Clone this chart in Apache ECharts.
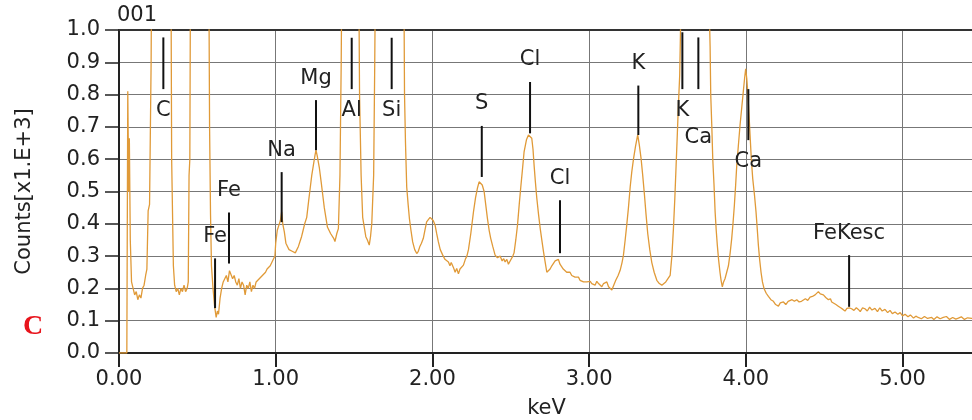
<!DOCTYPE html>
<html>
<head>
<meta charset="utf-8">
<script src="https://cdn.jsdelivr.net/npm/echarts@6/dist/echarts.min.js"></script>
<style>
  html, body { margin: 0; padding: 0; background: #fff; }
  #main { width: 972px; height: 420px; }
</style>
</head>
<body>
<div id="main"></div>
<script>
// EDS spectrum, [keV, counts x1000] (peaks above 1.0 run off the top)
const spectrum = [
  [0.00, 0.0], [0.03, 0.0], [0.05, 0.0], [0.056, 0.81], [0.062, 0.5], [0.066, 0.665], [0.072, 0.35], [0.08, 0.22],
  [0.09, 0.20], [0.10, 0.18], [0.11, 0.19], [0.12, 0.165], [0.13, 0.18], [0.14, 0.17], [0.15, 0.2], [0.16, 0.21],
  [0.17, 0.24], [0.178, 0.26], [0.186, 0.44], [0.195, 0.46], [0.205, 0.9], [0.21, 1.4], [0.27, 5.0], [0.33, 1.4],
  [0.336, 0.6], [0.347, 0.27], [0.355, 0.21], [0.365, 0.19], [0.375, 0.2], [0.385, 0.18], [0.395, 0.2], [0.405, 0.19],
  [0.415, 0.21], [0.425, 0.19], [0.435, 0.2], [0.442, 0.22], [0.447, 0.55], [0.452, 0.6], [0.457, 1.3], [0.52, 5.0],
  [0.572, 1.3], [0.578, 0.7], [0.584, 0.43], [0.59, 0.27], [0.60, 0.2], [0.61, 0.145], [0.62, 0.11], [0.628, 0.13],
  [0.635, 0.12], [0.645, 0.17], [0.655, 0.2], [0.665, 0.22], [0.675, 0.23], [0.685, 0.24], [0.695, 0.22], [0.705, 0.255],
  [0.715, 0.25], [0.725, 0.23], [0.735, 0.24], [0.745, 0.22], [0.755, 0.21], [0.765, 0.23], [0.775, 0.2], [0.785, 0.22],
  [0.795, 0.21], [0.805, 0.18], [0.815, 0.21], [0.825, 0.2], [0.835, 0.22], [0.845, 0.19], [0.855, 0.21], [0.865, 0.2],
  [0.875, 0.22], [0.885, 0.215], [0.895, 0.23], [0.905, 0.225], [0.915, 0.24], [0.925, 0.235], [0.935, 0.25], [0.945, 0.26],
  [0.955, 0.255], [0.965, 0.27], [0.975, 0.28], [0.985, 0.29], [0.995, 0.3], [1.0, 0.34], [1.01, 0.38], [1.02, 0.395],
  [1.03, 0.41], [1.038, 0.437], [1.045, 0.4], [1.055, 0.375], [1.065, 0.34], [1.075, 0.33], [1.085, 0.32], [1.095, 0.325],
  [1.105, 0.315], [1.115, 0.32], [1.125, 0.31], [1.135, 0.313], [1.145, 0.33], [1.155, 0.345], [1.165, 0.36], [1.175, 0.38],
  [1.185, 0.4], [1.198, 0.42], [1.21, 0.47], [1.22, 0.51], [1.23, 0.55], [1.24, 0.58], [1.25, 0.61], [1.257, 0.628],
  [1.265, 0.61], [1.278, 0.575], [1.29, 0.53], [1.3, 0.49], [1.31, 0.45], [1.32, 0.42], [1.33, 0.39], [1.34, 0.38],
  [1.35, 0.37], [1.36, 0.365], [1.37, 0.355], [1.378, 0.345], [1.39, 0.37], [1.40, 0.385], [1.41, 0.55], [1.418, 0.9],
  [1.425, 1.4], [1.48, 5.0], [1.527, 1.4], [1.535, 0.8], [1.545, 0.55], [1.555, 0.42], [1.565, 0.39], [1.575, 0.36],
  [1.585, 0.35], [1.597, 0.334], [1.605, 0.36], [1.613, 0.4], [1.625, 0.55], [1.632, 0.9], [1.64, 1.4], [1.74, 5.0],
  [1.815, 1.4], [1.822, 0.8], [1.828, 0.654], [1.836, 0.514], [1.845, 0.46], [1.853, 0.417], [1.863, 0.38], [1.874, 0.344],
  [1.887, 0.32], [1.9, 0.308], [1.91, 0.315], [1.92, 0.33], [1.93, 0.34], [1.942, 0.355], [1.952, 0.38], [1.963, 0.406],
  [1.975, 0.41], [1.985, 0.42], [1.995, 0.417], [2.005, 0.41], [2.017, 0.396], [2.027, 0.37], [2.038, 0.344], [2.05, 0.32],
  [2.066, 0.303], [2.08, 0.29], [2.09, 0.295], [2.102, 0.282], [2.112, 0.27], [2.12, 0.28], [2.134, 0.265], [2.145, 0.25],
  [2.155, 0.262], [2.166, 0.245], [2.176, 0.26], [2.188, 0.255], [2.198, 0.272], [2.21, 0.29], [2.22, 0.3], [2.23, 0.32],
  [2.245, 0.37], [2.262, 0.437], [2.275, 0.48], [2.287, 0.51], [2.298, 0.53], [2.308, 0.53], [2.318, 0.52], [2.33, 0.5],
  [2.34, 0.46], [2.351, 0.417], [2.362, 0.38], [2.372, 0.355], [2.385, 0.33], [2.4, 0.303], [2.415, 0.295], [2.425, 0.29],
  [2.432, 0.3], [2.445, 0.285], [2.455, 0.292], [2.464, 0.282], [2.475, 0.29], [2.485, 0.275], [2.496, 0.285], [2.505, 0.28],
  [2.513, 0.3], [2.521, 0.31], [2.532, 0.35], [2.543, 0.396], [2.554, 0.46], [2.564, 0.514], [2.575, 0.57], [2.585, 0.623],
  [2.6, 0.66], [2.613, 0.675], [2.624, 0.68], [2.634, 0.665], [2.642, 0.63], [2.649, 0.58], [2.657, 0.53], [2.666, 0.48],
  [2.677, 0.43], [2.688, 0.385], [2.698, 0.35], [2.709, 0.313], [2.72, 0.28], [2.73, 0.25], [2.74, 0.255], [2.751, 0.26],
  [2.762, 0.27], [2.772, 0.265], [2.783, 0.285], [2.793, 0.28], [2.804, 0.29], [2.814, 0.275], [2.825, 0.27], [2.835, 0.26],
  [2.846, 0.265], [2.857, 0.25], [2.868, 0.245], [2.878, 0.25], [2.889, 0.24], [2.9, 0.245], [2.91, 0.235], [2.921, 0.23],
  [2.932, 0.235], [2.942, 0.225], [2.953, 0.228], [2.964, 0.22], [2.975, 0.225], [2.985, 0.22], [2.996, 0.215], [3.007, 0.222],
  [3.017, 0.215], [3.028, 0.22], [3.038, 0.21], [3.049, 0.222], [3.06, 0.215], [3.07, 0.21], [3.081, 0.205], [3.092, 0.215],
  [3.102, 0.21], [3.113, 0.22], [3.124, 0.205], [3.134, 0.21], [3.145, 0.195], [3.157, 0.21], [3.17, 0.225], [3.185, 0.24],
  [3.198, 0.256], [3.21, 0.28], [3.219, 0.303], [3.23, 0.35], [3.24, 0.396], [3.251, 0.45], [3.262, 0.514], [3.272, 0.56],
  [3.283, 0.6], [3.296, 0.64], [3.31, 0.675], [3.32, 0.645], [3.332, 0.6], [3.342, 0.55], [3.353, 0.49], [3.363, 0.43],
  [3.374, 0.37], [3.387, 0.32], [3.4, 0.28], [3.415, 0.25], [3.432, 0.225], [3.448, 0.215], [3.464, 0.21], [3.475, 0.215],
  [3.489, 0.22], [3.503, 0.23], [3.517, 0.24], [3.528, 0.3], [3.538, 0.385], [3.547, 0.48], [3.555, 0.58], [3.563, 0.68],
  [3.57, 0.77], [3.578, 0.86], [3.587, 1.1], [3.65, 5.0], [3.69, 4.0], [3.76, 1.2], [3.772, 0.95], [3.776, 0.8],
  [3.783, 0.7], [3.789, 0.6], [3.797, 0.52], [3.804, 0.437], [3.811, 0.38], [3.818, 0.334], [3.826, 0.29], [3.835, 0.25],
  [3.842, 0.225], [3.85, 0.205], [3.858, 0.22], [3.867, 0.23], [3.878, 0.25], [3.889, 0.27], [3.9, 0.31], [3.91, 0.355],
  [3.918, 0.4], [3.927, 0.458], [3.935, 0.52], [3.942, 0.58], [3.952, 0.64], [3.963, 0.705], [3.974, 0.76], [3.984, 0.81],
  [3.992, 0.85], [3.999, 0.88], [4.006, 0.85], [4.012, 0.81], [4.02, 0.74], [4.027, 0.675], [4.035, 0.6], [4.044, 0.54],
  [4.055, 0.49], [4.065, 0.437], [4.072, 0.39], [4.08, 0.334], [4.088, 0.29], [4.097, 0.25], [4.106, 0.22], [4.116, 0.2],
  [4.13, 0.185], [4.144, 0.175], [4.16, 0.165], [4.176, 0.16], [4.19, 0.15], [4.208, 0.145], [4.22, 0.155], [4.23, 0.15],
  [4.24, 0.158], [4.255, 0.15], [4.27, 0.16], [4.282, 0.155], [4.295, 0.165], [4.31, 0.16], [4.325, 0.165], [4.34, 0.158],
  [4.355, 0.16], [4.367, 0.158], [4.38, 0.168], [4.395, 0.163], [4.41, 0.173], [4.425, 0.175], [4.442, 0.18], [4.452, 0.185],
  [4.463, 0.19], [4.475, 0.183], [4.485, 0.188], [4.495, 0.18], [4.51, 0.172], [4.527, 0.165], [4.54, 0.168], [4.548, 0.158],
  [4.56, 0.16], [4.575, 0.15], [4.59, 0.145], [4.605, 0.14], [4.62, 0.135], [4.633, 0.13], [4.645, 0.138], [4.66, 0.14],
  [4.675, 0.137], [4.69, 0.132], [4.705, 0.14], [4.718, 0.135], [4.73, 0.128], [4.745, 0.14], [4.76, 0.137], [4.775, 0.13],
  [4.79, 0.142], [4.805, 0.133], [4.824, 0.138], [4.84, 0.128], [4.855, 0.14], [4.87, 0.13], [4.888, 0.135], [4.905, 0.125],
  [4.92, 0.132], [4.935, 0.122], [4.952, 0.127], [4.97, 0.12], [4.985, 0.125], [5.0, 0.115], [5.016, 0.12], [5.035, 0.112],
  [5.05, 0.118], [5.07, 0.108], [5.085, 0.114], [5.1, 0.11], [5.12, 0.106], [5.14, 0.113], [5.16, 0.107], [5.186, 0.11],
  [5.2, 0.104], [5.22, 0.112], [5.24, 0.106], [5.26, 0.11], [5.28, 0.113], [5.3, 0.104], [5.32, 0.11], [5.34, 0.105],
  [5.356, 0.108], [5.375, 0.112], [5.395, 0.104], [5.415, 0.109], [5.441, 0.107], [5.46, 0.11]
];

// peak markers
const peakNames  = ['C', 'Fe', 'Fe', 'Na', 'Mg', 'Al', 'Si', 'S', 'Cl', 'Cl', 'K', 'K', 'Ca', 'Ca', 'FeKesc'];
const peakKev    = [0.283, 0.613, 0.702, 1.038, 1.257, 1.485, 1.740, 2.315, 2.623, 2.814, 3.314, 3.595, 3.697, 4.016, 4.659];
const peakTop    = [0.977, 0.293, 0.435, 0.560, 0.783, 0.976, 0.976, 0.703, 0.839, 0.473, 0.828, 0.993, 0.977, 0.817, 0.303];
const peakBottom = [0.817, 0.139, 0.277, 0.405, 0.628, 0.817, 0.817, 0.545, 0.680, 0.309, 0.675, 0.817, 0.817, 0.659, 0.143];
const labelSide  = ['below', 'above', 'above', 'above', 'above', 'below', 'below', 'above', 'above', 'above', 'above', 'below', 'below2', 'below', 'above'];

const xTicks = [0, 1, 2, 3, 4, 5];

const font = 'DejaVu Sans';
const textColor = '#222';

let chart = echarts.init(document.getElementById('main'));

let option = {
  animation: false,
  backgroundColor: '#fff',
  grid: {
    left: 119,
    right: -2,
    top: 30,
    bottom: 67,
    outerBoundsMode: 'none',
    containLabel: false
  },
  xAxis: [
    {
      type: 'value',
      min: 0,
      max: 5.456,
      interval: 1,
      name: 'keV',
      nameLocation: 'middle',
      nameGap: 45,
      nameTextStyle: { fontFamily: font, fontSize: 21, color: textColor },
      axisLine: { lineStyle: { color: '#222', width: 2 } },
      axisTick: { customValues: xTicks, length: 14, lineStyle: { color: '#222', width: 2 } },
      axisLabel: {
        customValues: xTicks,
        margin: 16,
        fontFamily: font,
        fontSize: 21,
        color: textColor,
        formatter: v => v.toFixed(2)
      },
      splitLine: { show: true, lineStyle: { color: '#777', width: 1 } }
    },
    {
      // top border
      type: 'value',
      position: 'top',
      min: 0,
      max: 5.456,
      axisLine: { show: true, lineStyle: { color: '#333', width: 2 } },
      axisTick: { show: false },
      axisLabel: { show: false },
      splitLine: { show: false }
    }
  ],
  yAxis: {
    type: 'value',
    min: 0,
    max: 1,
    interval: 0.1,
    name: 'Counts[x1.E+3]',
    nameLocation: 'middle',
    nameRotate: 90,
    nameGap: 84,
    nameTextStyle: { fontFamily: font, fontSize: 21, color: textColor },
    axisLine: { show: true, lineStyle: { color: '#222', width: 2 } },
    axisTick: { show: true, length: 14, lineStyle: { color: '#222', width: 1.5 } },
    axisLabel: {
      margin: 19,
      fontFamily: font,
      fontSize: 21,
      color: textColor,
      formatter: v => v.toFixed(1)
    },
    splitLine: { show: true, lineStyle: { color: '#777', width: 1 } }
  },
  graphic: [
    {
      type: 'text',
      left: 117,
      top: 5,
      style: { text: '001', font: '21px "DejaVu Sans"', fill: textColor }
    },
    {
      type: 'text',
      left: 23,
      top: 313,
      style: { text: 'C', font: 'bold 28px "Liberation Serif"', fill: '#e8141c' }
    }
  ],
  series: [
    {
      name: 'spectrum',
      type: 'line',
      data: spectrum,
      showSymbol: false,
      symbol: 'none',
      clip: true,
      lineStyle: { color: '#e09a38', width: 1.3 },
      z: 3
    },
    {
      name: 'peaks',
      type: 'custom',
      clip: false,
      z: 5,
      data: peakKev.map((k, i) => [k, peakTop[i], peakBottom[i]]),
      renderItem: function (params, api) {
        const i = params.dataIndex;
        const top = api.coord([api.value(0), api.value(1)]);
        const bottom = api.coord([api.value(0), api.value(2)]);
        const side = labelSide[i];
        let ty = top[1] - 22;
        if (side === 'below') ty = bottom[1] + 21;
        if (side === 'below2') ty = bottom[1] + 48;
        return {
          type: 'group',
          children: [
            {
              type: 'line',
              shape: { x1: top[0], y1: top[1], x2: bottom[0], y2: bottom[1] },
              style: { stroke: '#111', lineWidth: 2 }
            },
            {
              type: 'text',
              x: top[0],
              y: ty,
              style: {
                text: peakNames[i],
                font: '21px "DejaVu Sans"',
                fill: textColor,
                textAlign: 'center',
                textVerticalAlign: 'middle'
              }
            }
          ]
        };
      }
    }
  ]
};

chart.setOption(option);
</script>
</body>
</html>
